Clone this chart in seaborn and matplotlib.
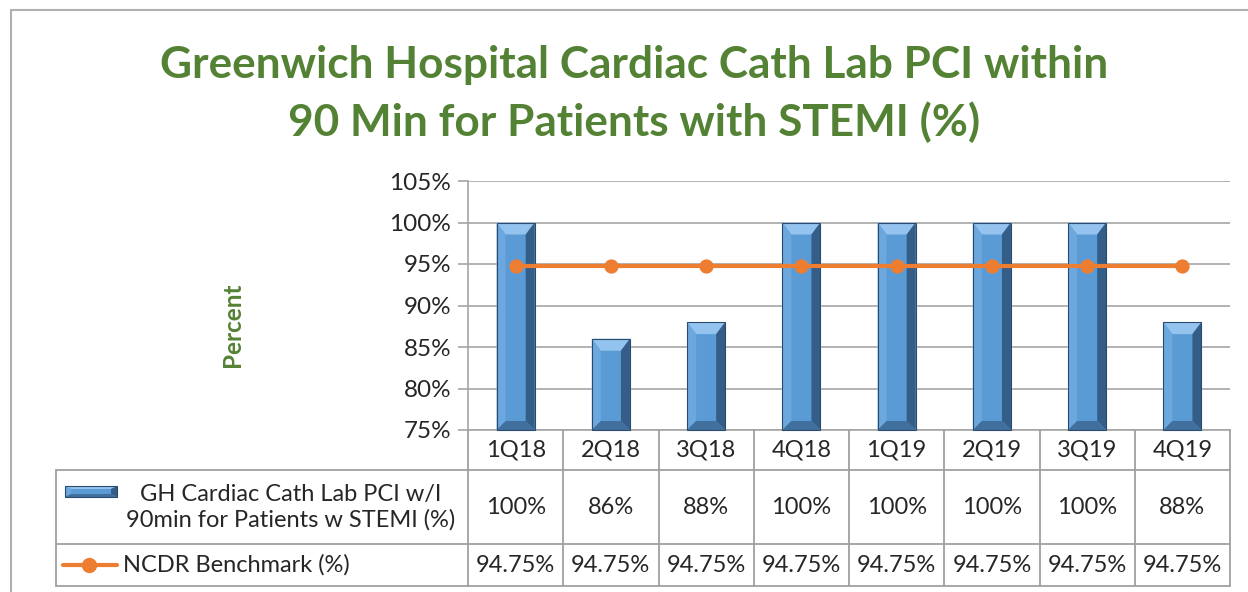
import matplotlib
matplotlib.use("Agg")
import matplotlib.pyplot as plt
import seaborn as sns
from matplotlib.patches import Polygon, Rectangle
from matplotlib.lines import Line2D

# ---------------- data ----------------
quarters = ["1Q18", "2Q18", "3Q18", "4Q18", "1Q19", "2Q19", "3Q19", "4Q19"]
gh_pci = [100, 86, 88, 100, 100, 100, 100, 88]
ncdr = [94.75, 94.75, 94.75, 94.75, 94.75, 94.75, 94.75, 94.75]
y_ticks = [75, 80, 85, 90, 95, 100, 105]

title_lines = ["Greenwich Hospital Cardiac Cath Lab PCI within",
               "90 Min for Patients with STEMI (%)"]
gh_name = "GH Cardiac Cath Lab PCI w/I\n90min for Patients w STEMI (%)"
ncdr_name = "NCDR Benchmark (%)"

# ---------------- style ----------------
GREEN = "#548235"
ORANGE = "#ED7D31"
FACE = "#5B9BD5"
GRID = "#A6A6A6"
TABLE_LINE = "#A0A0A0"

sns.set_theme(style="white")
plt.rcParams["font.family"] = ["Lato", "DejaVu Sans"]

W, H = 1248, 592
fig = plt.figure(figsize=(W / 100, H / 100), dpi=100)

# plot area in pixels
px_left, px_right, px_top, px_bot = 468, 1230, 181, 430
ax = fig.add_axes([px_left / W, 1 - px_bot / H,
                   (px_right - px_left) / W, (px_bot - px_top) / H])

sns.barplot(x=quarters, y=gh_pci, ax=ax, color=FACE, saturation=1,
            width=0.4, errorbar=None, zorder=2)
ax.set_ylim(75, 105)
ax.set_xlim(-0.5, len(quarters) - 0.5)

col_px = (px_right - px_left) / len(quarters)
unit_px_y = (px_bot - px_top) / (105 - 75)


def bevel(a, x0, y0, w, h, bx, bt, bb, z=3, face=False):
    x1, y1 = x0 + w, y0 + h
    if face:
        a.add_patch(Rectangle((x0, y0), w, h, fc=FACE, ec="none", zorder=z - 0.1,
                              clip_on=False))
    parts = [
        ([(x0, y1), (x1, y1), (x1 - bx, y1 - bt), (x0 + bx, y1 - bt)], "#93C3EE"),
        ([(x0, y0), (x0, y1), (x0 + bx, y1 - bt), (x0 + bx, y0 + bb)], "#6CA7DE"),
        ([(x1, y0), (x1, y1), (x1 - bx, y1 - bt), (x1 - bx, y0 + bb)], "#345D87"),
        ([(x0, y0), (x1, y0), (x1 - bx, y0 + bb), (x0 + bx, y0 + bb)], "#41709E"),
    ]
    for pts, c in parts:
        a.add_patch(Polygon(pts, closed=True, fc=c, ec="none", zorder=z, clip_on=False))
    a.add_patch(Rectangle((x0, y0), w, h, fc="none", ec="#2A4B6E", lw=0.8,
                          zorder=z + 0.1, clip_on=False))


for p in list(ax.patches):
    y0 = max(p.get_y(), ax.get_ylim()[0])
    top = p.get_y() + p.get_height()
    bevel(ax, p.get_x(), y0, p.get_width(), top - y0,
          9 / col_px, 12 / unit_px_y, 9 / unit_px_y)

sns.pointplot(x=quarters, y=ncdr, ax=ax, color=ORANGE, markers="o",
              linestyles="-", errorbar=None, markersize=8, linewidth=3)
for ln in ax.lines:
    ln.set_zorder(5)

ax.set_yticks(y_ticks)
ax.set_yticklabels([f"{v}%" for v in y_ticks], fontsize=17.5)
ax.yaxis.grid(True, color=GRID, lw=1.2)
ax.set_axisbelow(True)
ax.tick_params(axis="y", length=7, width=1.2, color=GRID, pad=5, left=True)
ax.tick_params(axis="x", length=0, labelbottom=False)
ax.set_xlabel("")
ax.set_ylabel("")
for s in ["top", "right"]:
    ax.spines[s].set_visible(False)
for s in ["left", "bottom"]:
    ax.spines[s].set_color(GRID)
    ax.spines[s].set_linewidth(1.2)

# ---------------- data table ----------------
tab_left, tab_bot = 56, 586
tab = fig.add_axes([tab_left / W, 1 - tab_bot / H,
                    (px_right - tab_left) / W, (tab_bot - px_bot) / H])
x_left = -0.5 - (px_left - tab_left) / col_px
tab.set_xlim(x_left, len(quarters) - 0.5)
tab.set_ylim(tab_bot - px_bot, 0)
tab.axis("off")


def to_x(px):
    return (px - px_left) / col_px - 0.5


rows = [0, 40, 114, 156]
lk = dict(color=TABLE_LINE, lw=1.3, clip_on=False)
for k in range(len(quarters) + 1):
    tab.plot([k - 0.5, k - 0.5], [rows[0], rows[-1]], **lk)
tab.plot([x_left, x_left], [rows[1], rows[-1]], **lk)
for r in rows[1:]:
    tab.plot([x_left, len(quarters) - 0.5], [r, r], **lk)

fs = 17
for i, q in enumerate(quarters):
    tab.text(i, (rows[0] + rows[1]) / 2, q, ha="center", va="center", fontsize=fs)
    tab.text(i, (rows[1] + rows[2]) / 2, f"{gh_pci[i]:g}%", ha="center",
             va="center", fontsize=fs)
    tab.text(i, (rows[2] + rows[3]) / 2, f"{ncdr[i]:.2f}%", ha="center",
             va="center", fontsize=fs)

tab.text(to_x(291), (rows[1] + rows[2]) / 2, gh_name, ha="center", va="center",
         multialignment="center", fontsize=fs, linespacing=1.25)
tab.text(to_x(123), (rows[2] + rows[3]) / 2, ncdr_name, ha="left", va="center",
         fontsize=fs)

# legend keys
kx0, kx1 = to_x(65), to_x(117)
bevel(tab, kx0, 67, kx1 - kx0, -11, 6 / col_px, -3, -3, face=True)
ly = (rows[2] + rows[3]) / 2
tab.add_line(Line2D([to_x(63), to_x(117)], [ly, ly], color=ORANGE, lw=3))
tab.plot([to_x(89)], [ly], "o", color=ORANGE, ms=10)

# ---------------- title & labels ----------------
fig.text(634 / W, 1 - 78 / H, title_lines[0], ha="center", va="baseline",
         fontsize=31.8, fontweight="bold", color=GREEN)
fig.text(634 / W, 1 - 136 / H, title_lines[1], ha="center", va="baseline",
         fontsize=31.8, fontweight="bold", color=GREEN)
fig.text(232 / W, 1 - 325 / H, "Percent", rotation=90, ha="center", va="center",
         fontsize=17.5, fontweight="bold", color=GREEN)

# chart border (top and left visible)
fig.add_artist(Line2D([11 / W, 11 / W], [0, 1 - 10 / H], color="#B0B0B0", lw=1.5))
fig.add_artist(Line2D([11 / W, 1], [1 - 10 / H, 1 - 10 / H], color="#B0B0B0", lw=1.5))

fig.savefig("out.png", dpi=100)
